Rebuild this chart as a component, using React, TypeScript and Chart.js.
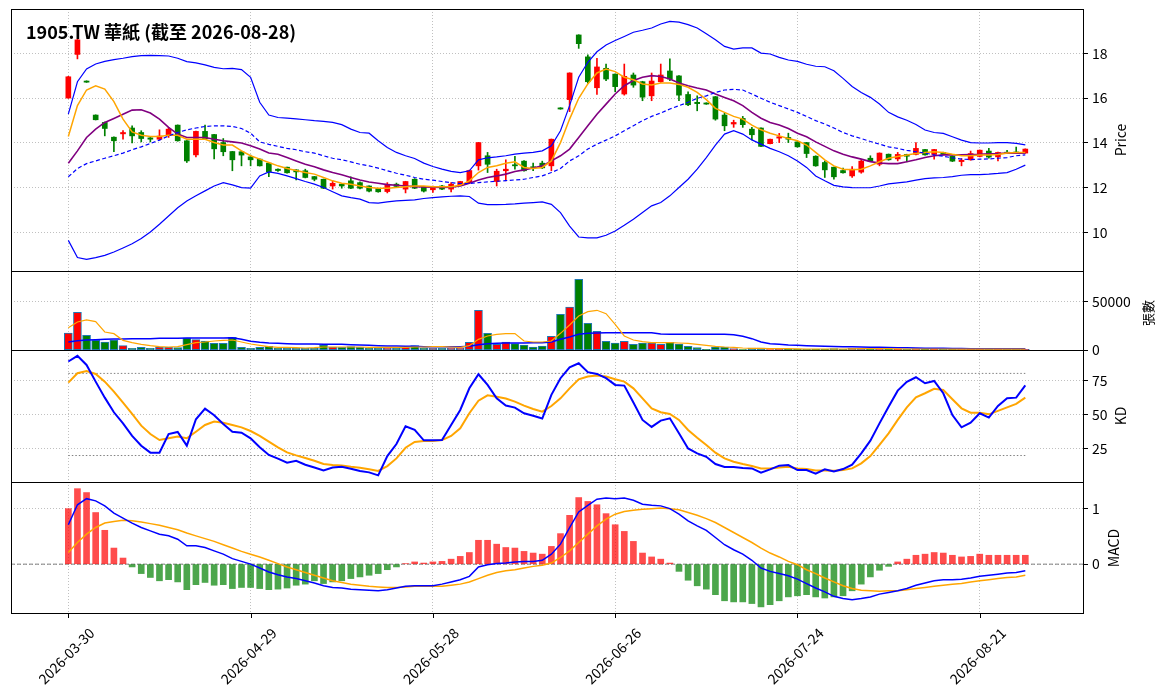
import React, { useEffect, useRef } from 'react';
import { Chart, registerables } from 'chart.js';

Chart.register(...registerables);

const FONT = '"Noto Sans CJK TC", "Noto Sans", sans-serif';
Chart.defaults.font.family = FONT;

// x tick positions (trading-day index) and their date labels
const tickIndex = [0, 20, 40, 60, 80, 100];
const tickLabels = ['2026-03-30', '2026-04-29', '2026-05-28', '2026-06-26', '2026-07-24', '2026-08-21'];

// daily candles, 2026-03-30 .. 2026-08-28
const opens = [
  16.0, 17.95, 16.76, 15.24, 14.91, 14.25, 14.4, 14.66, 14.46, 14.22,
  14.16, 14.36, 14.79, 14.09, 13.46, 14.51, 14.37, 14.01, 13.61, 13.6,
  13.37, 13.27, 13.09, 12.82, 12.91, 12.79, 12.75, 12.49, 12.37, 12.07,
  12.15, 12.3, 12.22, 12.07, 11.96, 11.82, 12.15, 11.93, 12.37, 12.03,
  11.9, 12.07, 11.93, 12.12, 12.22, 12.97, 13.42, 12.27, 12.75, 13.02,
  13.18, 12.93, 13.09, 12.97, 15.56, 15.93, 18.82, 17.84, 16.46, 17.33,
  17.07, 16.18, 17.03, 16.73, 16.1, 16.73, 17.21, 16.99, 16.16, 15.81,
  15.78, 16.06, 15.24, 14.84, 15.09, 14.61, 14.66, 13.96, 14.21, 14.24,
  14.04, 14.01, 13.4, 13.12, 12.91, 12.76, 12.52, 12.69, 13.31, 13.04,
  13.49, 13.28, 13.48, 13.48, 13.7, 13.48, 13.57, 13.4, 13.16, 13.24,
  13.39, 13.63, 13.37, 13.58, 13.59, 13.54,
];
const closes = [
  16.95, 18.6, 16.71, 15.03, 14.64, 14.09, 14.46, 14.31, 14.19, 14.16,
  14.3, 14.61, 14.09, 13.19, 14.51, 14.18, 13.73, 13.6, 13.24, 13.45,
  13.24, 12.97, 12.7, 12.76, 12.66, 12.7, 12.45, 12.37, 11.97, 12.19,
  12.07, 11.97, 11.97, 11.84, 11.81, 12.15, 12.05, 12.27, 11.97, 11.84,
  12.0, 11.93, 12.15, 12.27, 12.76, 14.01, 13.04, 12.73, 12.82, 12.97,
  12.75, 12.88, 12.88, 14.16, 15.51, 17.12, 18.43, 16.73, 17.39, 16.85,
  16.51, 16.97, 16.58, 16.04, 16.76, 17.03, 16.85, 16.13, 15.7, 15.75,
  15.73, 15.06, 14.76, 14.91, 14.81, 14.36, 13.84, 14.16, 14.27, 14.16,
  13.82, 13.52, 12.97, 12.79, 12.48, 12.66, 12.82, 13.18, 13.18, 13.54,
  13.24, 13.48, 13.4, 13.75, 13.46, 13.7, 13.48, 13.18, 13.22, 13.52,
  13.67, 13.36, 13.57, 13.53, 13.54, 13.72,
];
const highs = [
  16.97, 18.62, 16.77, 15.25, 14.93, 14.27, 14.55, 14.76, 14.54, 14.28,
  14.58, 14.69, 14.8, 14.1, 14.52, 14.79, 14.38, 14.19, 13.62, 13.63,
  13.45, 13.28, 13.1, 12.84, 12.92, 12.8, 12.82, 12.5, 12.38, 12.3,
  12.17, 12.48, 12.25, 12.08, 11.97, 12.22, 12.2, 12.28, 12.4, 12.04,
  12.07, 12.1, 12.22, 12.28, 12.78, 14.02, 13.57, 12.82, 13.24, 13.39,
  13.2, 13.09, 13.18, 14.17, 15.57, 17.13, 18.83, 17.93, 17.78, 17.52,
  17.08, 17.52, 17.12, 16.75, 17.12, 17.52, 17.75, 17.0, 16.28, 16.1,
  15.79, 16.07, 15.33, 15.01, 15.18, 14.69, 14.67, 14.17, 14.42, 14.43,
  14.06, 14.02, 13.42, 13.19, 12.92, 12.87, 12.94, 13.24, 13.42, 13.55,
  13.5, 13.57, 13.49, 14.01, 13.71, 13.71, 13.58, 13.41, 13.3, 13.63,
  13.68, 13.75, 13.58, 13.66, 13.81, 13.73,
];
const lows = [
  15.99, 17.75, 16.7, 15.02, 14.31, 13.6, 14.16, 14.0, 14.04, 14.04,
  14.13, 14.24, 14.07, 13.12, 13.37, 14.15, 13.28, 13.42, 12.75, 12.97,
  12.97, 12.96, 12.49, 12.72, 12.64, 12.34, 12.43, 12.3, 11.95, 11.93,
  11.97, 11.95, 11.94, 11.8, 11.79, 11.76, 12.0, 11.76, 11.95, 11.8,
  11.78, 11.9, 11.81, 12.1, 12.2, 12.78, 12.67, 12.07, 12.3, 12.82,
  12.73, 12.75, 12.85, 12.75, 15.5, 15.39, 18.22, 16.67, 16.16, 16.78,
  16.28, 16.13, 16.48, 15.88, 15.88, 16.7, 16.78, 15.88, 15.66, 15.43,
  15.72, 15.01, 14.54, 14.69, 14.69, 14.13, 13.83, 13.95, 14.01, 14.01,
  13.8, 13.34, 12.95, 12.45, 12.37, 12.64, 12.45, 12.64, 13.16, 12.97,
  13.22, 13.19, 13.15, 13.46, 13.45, 13.27, 13.46, 13.16, 12.97, 13.22,
  13.37, 13.31, 13.19, 13.52, 13.52, 13.53,
];

// price overlays
const ma5 = [
  14.28, 15.66, 16.36, 16.55, 16.4, 15.84, 15.06, 14.49, 14.34, 14.28,
  14.28, 14.34, 14.34, 14.16, 14.16, 14.16, 14.01, 13.9, 13.9, 13.64,
  13.42, 13.27, 13.12, 12.97, 12.85, 12.76, 12.67, 12.6, 12.45, 12.3,
  12.19, 12.15, 12.07, 12.0, 11.97, 11.97, 12.0, 12.04, 12.07, 12.07,
  12.04, 12.03, 12.04, 12.1, 12.3, 12.67, 12.9, 12.97, 13.09, 13.15,
  12.9, 12.85, 12.9, 13.19, 14.01, 15.06, 15.99, 16.63, 17.12, 17.3,
  17.18, 16.93, 16.82, 16.63, 16.58, 16.67, 16.67, 16.61, 16.48, 16.25,
  15.93, 15.54, 15.36, 15.18, 15.06, 14.79, 14.58, 14.43, 14.31, 14.19,
  14.09, 13.9, 13.57, 13.24, 12.97, 12.82, 12.79, 12.82, 12.97, 13.15,
  13.31, 13.39, 13.45, 13.52, 13.57, 13.6, 13.57, 13.49, 13.42, 13.42,
  13.45, 13.46, 13.48, 13.54, 13.57, 13.57,
];
const ma10 = [
  13.09, 13.64, 14.24, 14.61, 14.91, 15.09, 15.28, 15.46, 15.48, 15.33,
  15.06, 14.69, 14.39, 14.24, 14.24, 14.24, 14.16, 14.09, 14.04, 13.99,
  13.87, 13.72, 13.54, 13.49, 13.34, 13.19, 13.04, 12.93, 12.79, 12.67,
  12.57, 12.45, 12.34, 12.25, 12.19, 12.13, 12.1, 12.07, 12.04, 12.03,
  12.01, 12.0, 12.01, 12.07, 12.19, 12.34, 12.45, 12.52, 12.6, 12.72,
  12.79, 12.87, 12.97, 13.19, 13.42, 13.72, 14.24, 14.76, 15.28, 15.73,
  16.18, 16.55, 16.78, 16.93, 17.0, 16.96, 16.85, 16.67, 16.55, 16.45,
  16.36, 16.18, 16.03, 15.88, 15.66, 15.36, 15.1, 14.91, 14.8, 14.64,
  14.43, 14.27, 14.04, 13.84, 13.64, 13.49, 13.37, 13.27, 13.16, 13.1,
  13.07, 13.07, 13.15, 13.24, 13.34, 13.42, 13.46, 13.46, 13.46, 13.48,
  13.49, 13.51, 13.52, 13.54, 13.54, 13.54,
];
const bbUpper = [
  15.28, 16.73, 17.3, 17.52, 17.64, 17.72, 17.78, 17.85, 17.9, 17.91,
  17.9, 17.88, 17.78, 17.63, 17.57, 17.48, 17.37, 17.31, 17.33, 17.27,
  16.93, 15.81, 15.24, 15.13, 15.1, 15.07, 15.03, 14.99, 14.96, 14.91,
  14.81, 14.61, 14.46, 14.43, 14.09, 13.79, 13.57, 13.42, 13.3, 13.09,
  12.94, 12.82, 12.72, 12.67, 12.75, 13.24, 13.33, 13.37, 13.42, 13.49,
  13.54, 13.57, 13.64, 13.87, 14.54, 15.66, 16.93, 17.6, 18.07, 18.37,
  18.57, 18.75, 18.94, 19.03, 19.13, 19.31, 19.43, 19.39, 19.28, 19.13,
  18.87, 18.61, 18.31, 18.19, 18.24, 18.24, 18.01, 17.97, 17.82, 17.7,
  17.64, 17.51, 17.42, 17.4, 17.22, 16.88, 16.52, 16.25, 16.03, 15.73,
  15.36, 15.16, 15.01, 14.82, 14.57, 14.46, 14.42, 14.27, 14.12, 14.01,
  13.99, 13.99, 14.01, 14.01, 13.97, 13.91,
];
const bbMid = [
  12.48, 12.85, 13.07, 13.19, 13.31, 13.42, 13.54, 13.69, 13.82, 13.97,
  14.12, 14.31, 14.46, 14.58, 14.66, 14.73, 14.76, 14.76, 14.73, 14.64,
  14.43, 14.04, 13.93, 13.84, 13.75, 13.69, 13.6, 13.54, 13.42, 13.31,
  13.24, 13.15, 13.04, 12.97, 12.87, 12.75, 12.64, 12.55, 12.45, 12.37,
  12.33, 12.27, 12.22, 12.18, 12.18, 12.22, 12.25, 12.28, 12.31, 12.34,
  12.37, 12.45, 12.52, 12.67, 12.85, 13.19, 13.42, 13.72, 13.94, 14.12,
  14.31, 14.54, 14.76, 14.99, 15.18, 15.33, 15.51, 15.66, 15.81, 15.99,
  16.1, 16.25, 16.36, 16.39, 16.36, 16.18, 15.99, 15.81, 15.66, 15.51,
  15.36, 15.18, 14.99, 14.84, 14.66, 14.46, 14.31, 14.19, 14.06, 13.94,
  13.82, 13.75, 13.66, 13.6, 13.54, 13.46, 13.4, 13.33, 13.27, 13.25,
  13.27, 13.28, 13.31, 13.34, 13.42, 13.46,
];
const bbLower = [
  9.64, 8.87, 8.79, 8.87, 8.97, 9.12, 9.3, 9.49, 9.72, 10.01,
  10.36, 10.73, 11.1, 11.4, 11.63, 11.85, 12.07, 12.22, 12.12, 12.0,
  11.97, 12.52, 12.7, 12.63, 12.52, 12.4, 12.27, 12.15, 12.0, 11.81,
  11.63, 11.55, 11.48, 11.33, 11.3, 11.36, 11.4, 11.43, 11.45, 11.51,
  11.55, 11.58, 11.61, 11.63, 11.6, 11.3, 11.24, 11.24, 11.25, 11.27,
  11.3, 11.33, 11.36, 11.25, 10.88, 10.28, 9.79, 9.75, 9.75, 9.87,
  10.06, 10.31, 10.58, 10.88, 11.18, 11.33, 11.63, 12.0, 12.37, 12.82,
  13.34, 13.9, 14.39, 14.54, 14.39, 14.13, 13.94, 13.75, 13.6, 13.42,
  13.19, 12.9, 12.52, 12.3, 12.1, 12.03, 12.0, 11.99, 11.99, 12.07,
  12.16, 12.21, 12.25, 12.33, 12.4, 12.43, 12.45, 12.49, 12.55, 12.58,
  12.58, 12.6, 12.63, 12.67, 12.82, 13.0,
];

// volume (張)
const volumes = [
  17470, 38700, 15070, 9930, 8220, 10270, 4450, 1710, 2740, 1710,
  3080, 2740, 2400, 12330, 10620, 9250, 6850, 6850, 13010, 2740,
  1710, 2740, 3770, 2050, 1710, 1710, 1710, 1710, 5140, 3080,
  2740, 3420, 2740, 2050, 1710, 2050, 1710, 3080, 4450, 2050,
  1710, 1710, 2050, 2050, 7880, 40750, 17120, 5820, 8220, 6510,
  5140, 3080, 4110, 14040, 36650, 44180, 72610, 27400, 19180, 8900,
  7190, 8900, 5820, 7190, 7190, 5820, 7880, 6160, 3770, 2400,
  700, 3080, 3080, 1370, 500, 2050, 2050, 500, 1370, 1030,
  1030, 700, 1030, 1030, 1370, 700, 1710, 1710, 1030, 1370,
  1030, 1030, 700, 1370, 1030, 1030, 700, 1030, 700, 1030,
  1030, 700, 1030, 700, 700, 700,
];
const volMa5 = [
  22950, 28770, 30830, 29110, 18490, 16780, 9930, 7530, 5820, 4450,
  3420, 3080, 3420, 5480, 7530, 8220, 9250, 9930, 10270, 8220,
  6160, 4800, 3420, 2740, 2740, 2400, 2050, 2400, 3080, 3080,
  3080, 3080, 3080, 2740, 2740, 2740, 2740, 2740, 3080, 3080,
  3420, 3420, 3080, 2740, 4450, 10960, 14390, 16100, 16780, 16780,
  9250, 8220, 8220, 9250, 17120, 25690, 34930, 39390, 40760, 37330,
  26370, 14390, 10270, 8560, 7530, 7530, 7530, 7190, 6850, 5820,
  4800, 3770, 3080, 2740, 2050, 1710, 1710, 1370, 1370, 1370,
  1200, 1030, 1030, 1030, 1030, 1030, 1200, 1370, 1370, 1370,
  1370, 1200, 1030, 1030, 1030, 1030, 1030, 960, 900, 900,
  900, 900, 900, 830, 830, 800,
];
const volMa20 = [
  8220, 9590, 10270, 10620, 10960, 11300, 11300, 11640, 11640, 11640,
  11990, 11990, 11990, 12330, 12330, 12330, 12330, 12330, 12670, 10960,
  8900, 7880, 7190, 6850, 6510, 6160, 6160, 6160, 5820, 5820,
  5820, 5480, 5140, 4800, 4450, 4110, 4110, 3770, 3770, 3420,
  3420, 3420, 3420, 3420, 3770, 5480, 6510, 6850, 7190, 7190,
  7190, 7530, 7530, 8220, 10960, 13360, 16100, 17120, 17470, 17810,
  17810, 17810, 17810, 17810, 17810, 16440, 16100, 16100, 16100, 16100,
  16100, 16100, 16100, 15760, 14040, 11640, 8220, 6510, 5820, 5140,
  4800, 4450, 4110, 3770, 3600, 3420, 3250, 3080, 2900, 2740,
  2570, 2400, 2230, 2050, 1880, 1710, 1710, 1540, 1540, 1370,
  1370, 1370, 1370, 1370, 1370, 1370,
];

// KD
const kValues = [
  88.7, 92.8, 86.2, 74.0, 62.3, 51.6, 43.5, 34.3, 27.2, 22.1,
  22.1, 35.7, 37.2, 27.2, 46.5, 54.3, 49.4, 43.0, 37.4, 36.7,
  32.6, 26.0, 20.4, 17.7, 14.8, 16.2, 13.3, 11.3, 9.1, 11.3,
  11.8, 10.4, 8.7, 7.7, 5.5, 19.6, 28.4, 41.3, 38.7, 31.1,
  31.1, 31.3, 42.3, 53.3, 69.1, 79.4, 71.6, 61.8, 56.5, 55.0,
  50.9, 49.1, 47.0, 64.3, 76.5, 84.5, 87.4, 80.9, 79.6, 76.5,
  71.6, 71.1, 58.7, 46.0, 40.9, 45.5, 47.2, 36.2, 25.2, 21.6,
  19.1, 13.8, 11.6, 11.6, 10.9, 10.6, 7.4, 9.9, 12.6, 13.0,
  9.4, 9.4, 6.7, 9.9, 8.4, 10.1, 13.3, 21.6, 30.9, 43.5,
  55.7, 67.4, 73.8, 77.2, 72.8, 74.5, 65.5, 49.6, 40.6, 44.0,
  50.9, 47.7, 56.2, 61.8, 62.3, 71.3,
];
const dValues = [
  73.3, 80.1, 81.8, 79.6, 74.0, 66.7, 58.7, 50.4, 41.8, 35.7,
  31.3, 32.6, 33.8, 32.6, 37.4, 42.3, 44.8, 44.0, 42.3, 40.6,
  37.9, 34.3, 30.1, 26.0, 22.3, 20.1, 18.2, 16.2, 13.8, 13.0,
  12.8, 11.8, 11.1, 9.9, 8.7, 12.3, 17.9, 25.7, 29.9, 30.6,
  30.6, 31.3, 34.3, 39.9, 50.9, 60.1, 64.0, 63.0, 61.6, 59.4,
  56.5, 54.0, 52.1, 56.2, 61.8, 69.1, 75.7, 77.7, 78.4, 77.7,
  75.7, 74.0, 69.1, 61.8, 54.5, 51.6, 50.4, 46.0, 38.7, 33.0,
  27.7, 22.1, 17.9, 15.5, 13.8, 12.3, 10.6, 10.6, 11.3, 11.8,
  10.6, 10.1, 9.1, 9.1, 8.9, 9.4, 10.6, 14.3, 19.6, 27.7,
  36.2, 46.0, 55.2, 62.6, 65.5, 68.7, 67.9, 61.1, 54.5, 51.3,
  51.3, 50.1, 52.6, 55.2, 57.7, 62.3,
];

// MACD
const macdHist = [
  1.0, 1.36, 1.29, 0.93, 0.61, 0.29, 0.11, -0.05, -0.17, -0.24,
  -0.3, -0.28, -0.32, -0.46, -0.37, -0.33, -0.38, -0.37, -0.44, -0.42,
  -0.42, -0.44, -0.46, -0.45, -0.43, -0.38, -0.36, -0.3, -0.35, -0.32,
  -0.3, -0.26, -0.23, -0.2, -0.17, -0.1, -0.05, 0.01, 0.04, 0.02,
  0.04, 0.05, 0.09, 0.14, 0.21, 0.43, 0.43, 0.36, 0.3, 0.29,
  0.23, 0.2, 0.18, 0.32, 0.55, 0.88, 1.2, 1.13, 1.07, 0.91,
  0.71, 0.59, 0.41, 0.2, 0.13, 0.09, 0.02, -0.13, -0.29, -0.39,
  -0.45, -0.55, -0.66, -0.68, -0.68, -0.71, -0.77, -0.73, -0.66, -0.59,
  -0.57, -0.55, -0.59, -0.61, -0.59, -0.57, -0.48, -0.36, -0.23, -0.11,
  -0.04, 0.04, 0.09, 0.16, 0.18, 0.21, 0.2, 0.16, 0.13, 0.14,
  0.18, 0.16, 0.16, 0.16, 0.16, 0.16,
];
const macdDif = [
  0.71, 1.07, 1.18, 1.14, 1.05, 0.92, 0.83, 0.74, 0.66, 0.6,
  0.54, 0.51, 0.45, 0.33, 0.33, 0.3, 0.24, 0.18, 0.1, 0.05,
  0.0, -0.07, -0.14, -0.19, -0.23, -0.26, -0.3, -0.34, -0.39, -0.42,
  -0.43, -0.45, -0.46, -0.47, -0.48, -0.46, -0.43, -0.4, -0.39, -0.39,
  -0.39, -0.36, -0.32, -0.28, -0.22, -0.05, -0.01, 0.01, 0.02, 0.04,
  0.05, 0.05, 0.07, 0.18, 0.36, 0.66, 0.94, 1.06, 1.17, 1.19,
  1.18, 1.19, 1.15, 1.08, 1.06, 1.05, 1.0, 0.9, 0.78, 0.69,
  0.61, 0.48, 0.35, 0.26, 0.18, 0.07, -0.07, -0.13, -0.17, -0.21,
  -0.27, -0.35, -0.43, -0.5, -0.58, -0.62, -0.64, -0.62, -0.59, -0.54,
  -0.51, -0.48, -0.44, -0.38, -0.34, -0.3, -0.28, -0.28, -0.27, -0.25,
  -0.22, -0.2, -0.18, -0.16, -0.15, -0.12,
];
const macdDea = [
  0.21, 0.39, 0.54, 0.66, 0.74, 0.77, 0.79, 0.78, 0.76, 0.73,
  0.7, 0.66, 0.62, 0.56, 0.51, 0.46, 0.41, 0.35, 0.29, 0.23,
  0.18, 0.13, 0.07, 0.01, -0.05, -0.1, -0.15, -0.2, -0.25, -0.3,
  -0.33, -0.36, -0.38, -0.4, -0.41, -0.42, -0.42, -0.41, -0.4, -0.4,
  -0.4, -0.4, -0.38, -0.36, -0.32, -0.26, -0.2, -0.15, -0.12, -0.1,
  -0.07, -0.04, -0.02, 0.02, 0.12, 0.24, 0.39, 0.54, 0.69, 0.81,
  0.9, 0.95, 0.97, 0.99, 1.0, 1.01, 1.0, 0.98, 0.93, 0.88,
  0.82, 0.75, 0.66, 0.57, 0.48, 0.39, 0.29, 0.2, 0.13, 0.05,
  -0.01, -0.1, -0.17, -0.25, -0.32, -0.39, -0.44, -0.47, -0.48, -0.49,
  -0.48, -0.48, -0.46, -0.44, -0.42, -0.4, -0.38, -0.36, -0.35, -0.32,
  -0.3, -0.28, -0.26, -0.24, -0.23, -0.2,
];

const W = 1163;
const H = 698;
const PLOT_LEFT = 11;
const AXIS_W = 80;
const X_MIN = -6.29;
const X_MAX = 111.33;
const GRID = '#b0b0b0';
const UP = '#ff0000';
const DOWN = '#008000';
const BLUE = '#0000ff';
const ORANGE = '#ffa500';
const PURPLE = '#800080';

const idx = closes.map((_, i) => i);
const pts = (arr: number[]) => arr.map((y, i) => ({ x: i, y }));
const candleColors = idx.map((i) => (closes[i] >= opens[i] ? UP : DOWN));

const framePlugin = {
  id: 'frame',
  afterDraw(chart: any) {
    const { ctx, chartArea: a } = chart;
    ctx.save();
    ctx.strokeStyle = '#000';
    ctx.lineWidth = 1;
    ctx.strokeRect(Math.round(a.left) + 0.5, Math.round(a.top) + 0.5, Math.round(a.right - a.left), Math.round(a.bottom - a.top));
    ctx.restore();
  },
};

// horizontal reference line, either across the panel or over the data range only
function hLine(value: number, color: string, dash: number[], full: boolean) {
  return {
    id: 'hline' + value,
    beforeDatasetsDraw(chart: any) {
      const { ctx, chartArea: a, scales } = chart;
      const y = scales.y.getPixelForValue(value);
      const x0 = full ? a.left : scales.x.getPixelForValue(0);
      const x1 = full ? a.right : scales.x.getPixelForValue(closes.length - 1);
      ctx.save();
      ctx.strokeStyle = color;
      ctx.lineWidth = 1;
      ctx.setLineDash(dash);
      ctx.beginPath();
      ctx.moveTo(x0, y);
      ctx.lineTo(x1, y);
      ctx.stroke();
      ctx.restore();
    },
  };
}

// rotated date labels centred on the ticks, as matplotlib does
const dateLabels = {
  id: 'dateLabels',
  afterDraw(chart: any) {
    const { ctx, chartArea: a, scales } = chart;
    ctx.save();
    ctx.strokeStyle = '#000';
    ctx.fillStyle = '#000';
    ctx.lineWidth = 1;
    ctx.font = `14px ${FONT}`;
    ctx.textAlign = 'center';
    ctx.textBaseline = 'middle';
    tickIndex.forEach((v, k) => {
      const px = scales.x.getPixelForValue(v);
      ctx.beginPath();
      ctx.moveTo(Math.round(px) + 0.5, a.bottom);
      ctx.lineTo(Math.round(px) + 0.5, a.bottom + 5);
      ctx.stroke();
      ctx.save();
      ctx.translate(px - 2, a.bottom + 43);
      ctx.rotate(-Math.PI / 4);
      ctx.fillText(tickLabels[k], 0, 0);
      ctx.restore();
    });
    ctx.restore();
  },
};

const noPadding = (s: any) => {
  s.paddingTop = 0;
  s.paddingBottom = 0;
  s.paddingLeft = 0;
  s.paddingRight = 0;
};

function buildConfig(top: number, bottom: number, dates: boolean, yMin: number, yMax: number, yTicks: number[], datasets: any[], plugins: any[]): any {
  const xHeight = dates ? H - bottom : 0;
  return {
    type: 'bar',
    data: { datasets },
    options: {
      animation: false,
      responsive: false,
      maintainAspectRatio: false,
      layout: { padding: { left: PLOT_LEFT, right: 0, top, bottom: H - bottom - xHeight } },
      plugins: { legend: { display: false }, tooltip: { enabled: false } },
      scales: {
        x: {
          type: 'linear',
          min: X_MIN,
          max: X_MAX,
          bounds: 'data',
          offset: false,
          afterBuildTicks: (s: any) => {
            s.ticks = tickIndex.map((v) => ({ value: v }));
          },
          afterFit: (s: any) => {
            s.height = xHeight;
            noPadding(s);
          },
          ticks: { display: false },
          grid: { color: GRID, lineWidth: 0.8, drawTicks: false, offset: false },
          border: { display: false, dash: [1, 2] },
        },
        y: {
          type: 'linear',
          position: 'right',
          min: yMin,
          max: yMax,
          bounds: 'data',
          afterBuildTicks: (s: any) => {
            s.ticks = yTicks.map((v) => ({ value: v }));
          },
          afterFit: (s: any) => {
            s.width = AXIS_W;
            noPadding(s);
          },
          ticks: {
            color: '#000',
            font: { family: FONT, size: 14 },
            padding: 4,
            callback: (v: any) => String(v),
          },
          grid: { color: GRID, lineWidth: 0.8, drawTicks: true, tickLength: 5, tickColor: '#000', tickWidth: 1 },
          border: { display: false, dash: [1, 2] },
        },
      },
    },
    plugins: [...plugins, framePlugin],
  };
}

const line = (arr: number[], color: string, width: number, dash?: number[]) => ({
  type: 'line',
  data: pts(arr),
  borderColor: color,
  borderWidth: width,
  borderDash: dash || [],
  pointRadius: 0,
  fill: false,
  order: 0,
});

const App: React.FC = () => {
  const priceRef = useRef<HTMLCanvasElement>(null);
  const volRef = useRef<HTMLCanvasElement>(null);
  const kdRef = useRef<HTMLCanvasElement>(null);
  const macdRef = useRef<HTMLCanvasElement>(null);

  useEffect(() => {
    const charts: Chart[] = [];

    charts.push(
      new Chart(
        priceRef.current as HTMLCanvasElement,
        buildConfig(9, 271, false, 8.27, 19.98, [10, 12, 14, 16, 18], [
          line(bbUpper, BLUE, 1.2),
          line(bbMid, BLUE, 1.2, [4, 2.5]),
          line(bbLower, BLUE, 1.2),
          line(ma5, ORANGE, 1.5),
          line(ma10, PURPLE, 1.6),
          {
            type: 'bar',
            data: idx.map((i) => ({ x: i, y: [lows[i], highs[i]] })),
            backgroundColor: candleColors,
            barThickness: 1,
            grouped: false,
            order: 3,
          },
          {
            type: 'bar',
            data: idx.map((i) => ({ x: i, y: [opens[i], closes[i]] })),
            backgroundColor: candleColors,
            barThickness: 5,
            grouped: false,
            order: 2,
          },
        ], [])
      )
    );

    charts.push(
      new Chart(
        volRef.current as HTMLCanvasElement,
        buildConfig(271, 350, false, 0, 81100, [0, 50000], [
          line(volMa5, ORANGE, 1.2),
          line(volMa20, BLUE, 1.5),
          {
            type: 'bar',
            data: pts(volumes),
            backgroundColor: candleColors,
            borderColor: '#1f77b4',
            borderWidth: 1,
            borderSkipped: false,
            barThickness: 8,
            grouped: false,
            order: 2,
          },
        ], [])
      )
    );

    charts.push(
      new Chart(
        kdRef.current as HTMLCanvasElement,
        buildConfig(350, 482, false, 0.66, 97.1, [25, 50, 75], [
          line(kValues, BLUE, 2),
          line(dValues, ORANGE, 2),
        ], [hLine(80, '#808080', [1.5, 2], false), hLine(20, '#808080', [1.5, 2], false)])
      )
    );

    charts.push(
      new Chart(
        macdRef.current as HTMLCanvasElement,
        buildConfig(482, 613, true, -0.88, 1.48, [0, 1], [
          line(macdDif, BLUE, 1.5),
          line(macdDea, ORANGE, 1.5),
          {
            type: 'bar',
            data: pts(macdHist),
            backgroundColor: macdHist.map((v) => (v >= 0 ? 'rgba(255,0,0,0.7)' : 'rgba(0,128,0,0.7)')),
            barThickness: 6,
            grouped: false,
            order: 2,
          },
        ], [hLine(0, '#808080', [4, 2], true), dateLabels])
      )
    );

    return () => {
      charts.forEach((c) => c.destroy());
    };
  }, []);

  const canvasStyle: React.CSSProperties = { position: 'absolute', left: 0, top: 0, width: W, height: H };
  const axisTitle = (text: string, x: number, y: number, size: number): React.ReactElement => (
    <div
      style={{
        position: 'absolute',
        left: x,
        top: y,
        transform: 'translate(-50%, -50%) rotate(-90deg)',
        fontSize: size,
        lineHeight: `${size + 2}px`,
        whiteSpace: 'nowrap',
        color: '#000',
      }}
    >
      {text}
    </div>
  );

  return (
    <div style={{ position: 'absolute', left: 0, top: 0, width: W, height: H, background: '#fff', fontFamily: FONT, overflow: 'hidden' }}>
      <canvas ref={priceRef} width={W} height={H} style={canvasStyle} />
      <canvas ref={volRef} width={W} height={H} style={canvasStyle} />
      <canvas ref={kdRef} width={W} height={H} style={canvasStyle} />
      <canvas ref={macdRef} width={W} height={H} style={canvasStyle} />
      <div style={{ position: 'absolute', left: 26, top: 19, fontSize: 18, fontWeight: 'bold', lineHeight: '24px', whiteSpace: 'nowrap', color: '#000' }}>
        1905.TW 華紙 (截至 2026-08-28)
      </div>
      {axisTitle('Price', 1120, 140, 14)}
      {axisTitle('張數', 1147, 313, 13)}
      {axisTitle('KD', 1120, 416, 14)}
      {axisTitle('MACD', 1113, 548, 14)}
    </div>
  );
};

export default App;
